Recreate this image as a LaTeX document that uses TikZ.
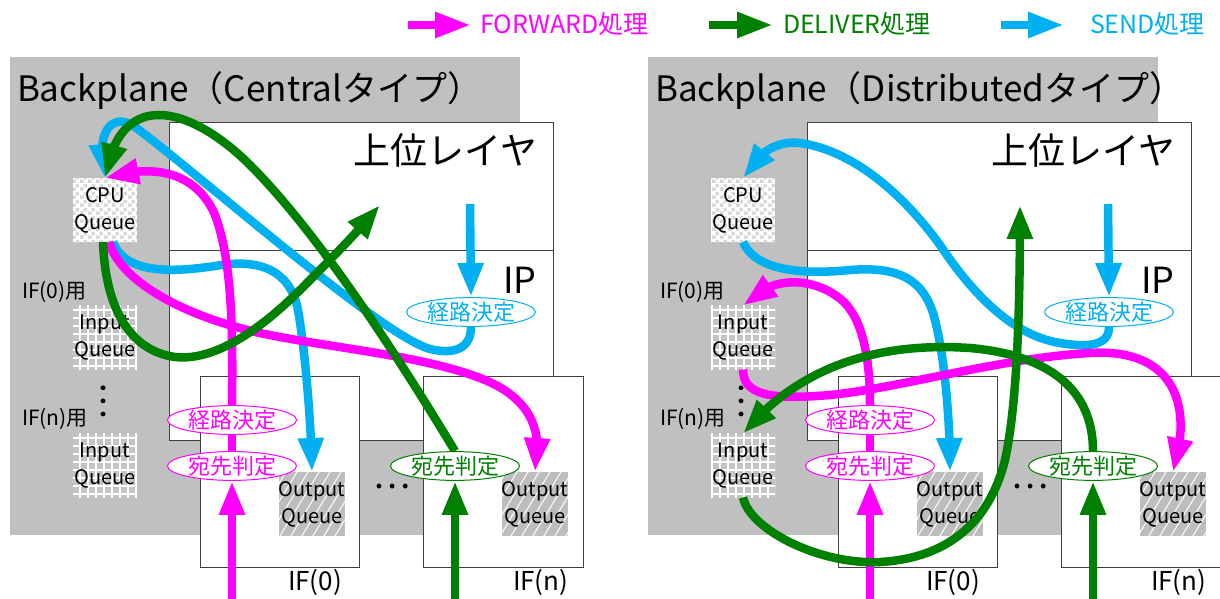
\documentclass[tikz,border=0pt]{standalone}
\usepackage{fontspec}
\setmainfont{Noto Sans CJK JP}
\usetikzlibrary{arrows.meta,bending,shapes.geometric,patterns}
\pgfdeclarelayer{boxes}
\pgfdeclarelayer{curves}
\pgfsetlayers{boxes,curves,main}
\newcommand{\myfs}[1]{\fontsize{#1}{#1}\selectfont}
\definecolor{fwd}{HTML}{FF00FF}
\definecolor{dlv}{HTML}{008000}
\definecolor{snd}{HTML}{00B0F0}
\definecolor{bp}{HTML}{C0C0C0}
\definecolor{frame}{HTML}{404040}
\definecolor{chk}{HTML}{D8D8D8}
\definecolor{inqc}{HTML}{C4C4C4}
\definecolor{outqc}{HTML}{BDBDBD}
\definecolor{qedge}{HTML}{505050}
\pgfdeclarepatternformonly{qchecker}{\pgfpointorigin}{\pgfqpoint{8pt}{8pt}}{\pgfqpoint{8pt}{8pt}}{%
  \pgfpathrectangle{\pgfpointorigin}{\pgfqpoint{4pt}{4pt}}%
  \pgfpathrectangle{\pgfqpoint{4pt}{4pt}}{\pgfqpoint{4pt}{4pt}}%
  \pgfusepath{fill}}
\pgfdeclarepatternformonly{qgrid}{\pgfqpoint{-1pt}{-1pt}}{\pgfqpoint{9pt}{9pt}}{\pgfqpoint{8pt}{8pt}}{%
  \pgfsetlinewidth{1.2pt}%
  \pgfpathmoveto{\pgfqpoint{0pt}{-1pt}}\pgfpathlineto{\pgfqpoint{0pt}{9pt}}%
  \pgfpathmoveto{\pgfqpoint{-1pt}{0pt}}\pgfpathlineto{\pgfqpoint{9pt}{0pt}}%
  \pgfusepath{stroke}}
\pgfdeclarepatternformonly{qdiag}{\pgfqpoint{-1pt}{-1pt}}{\pgfqpoint{12pt}{19pt}}{\pgfqpoint{11pt}{18pt}}{%
  \pgfsetlinewidth{1pt}%
  \pgfpathmoveto{\pgfqpoint{0pt}{0pt}}\pgfpathlineto{\pgfqpoint{11pt}{18pt}}%
  \pgfusepath{stroke}}
\tikzset{
  frm/.style={draw=frame, line width=1pt, fill=white, inner sep=0pt, outer sep=0pt, anchor=north west},
  qbase/.style={minimum width=64pt, minimum height=64pt, inner sep=0pt, outer sep=0pt, align=center,
    font=\fontsize{20pt}{27pt}\selectfont,
    append after command={[draw=qedge, line width=1.5pt] (\tikzlastnode.north west) -- (\tikzlastnode.south west)
      (\tikzlastnode.north east) -- (\tikzlastnode.south east)}},
  cpuq/.style={qbase, fill=white, postaction={pattern=qchecker, pattern color=chk}},
  inq/.style={qbase, fill=inqc, postaction={pattern=qgrid, pattern color=white}},
  outq/.style={qbase, fill=outqc, postaction={pattern=qdiag, pattern color=white}},
  lbl/.style={ellipse, draw=#1, text=#1, fill=white, line width=1pt, minimum width=129pt,
    minimum height=25pt, inner sep=0pt, font=\myfs{22pt}},
  flow/.style={line width=8.5pt, draw=#1},
  head/.style={-{Triangle[length=34pt,width=24pt]}},
  lghead/.style={-{Triangle[length=36pt,width=24pt]}},
  txt/.style={inner sep=0pt, outer sep=0pt},
}
\begin{document}
\begin{tikzpicture}[x=1pt,y=-1pt]
\useasboundingbox (0,0) rectangle (1220,598);
% legend
\coordinate (lgFa) at (408,25); \coordinate (lgFb) at (471,25);
\coordinate (lgDa) at (709,25); \coordinate (lgDb) at (773,25);
\coordinate (lgSa) at (1001,25); \coordinate (lgSb) at (1064,25);
\draw[flow=fwd, lghead] (lgFa) -- (lgFb);
\draw[flow=dlv, lghead] (lgDa) -- (lgDb);
\draw[flow=snd, lghead] (lgSa) -- (lgSb);
\node[txt, anchor=base west, text=fwd, font=\myfs{25pt}] (lgFt) at (480,33) {FORWARD処理};
\node[txt, anchor=base west, text=dlv, font=\myfs{25pt}] (lgDt) at (783,33) {DELIVER処理};
\node[txt, anchor=base west, text=snd, font=\myfs{25pt}] (lgSt) at (1090,33) {SEND処理};

\foreach \dx/\p/\ttl in {0/L/Central, 638/R/Distributed}{
\begin{scope}[xshift=\dx pt]
 \begin{pgfonlayer}{boxes}
  \node[fill=bp, inner sep=0pt, outer sep=0pt, minimum width=510pt, minimum height=478pt, anchor=north west] (\p-bp) at (10,57) {};
  \node[txt, anchor=base west, font=\myfs{35pt}] (\p-title) at (17,101) {Backplane（\ttl タイプ）};
  \node[frm, minimum width=384pt, minimum height=128pt] (\p-upper) at (169,122) {};
  \node[frm, minimum width=384pt, minimum height=190pt] (\p-ip) at (169,250) {};
  \node[frm, minimum width=159pt, minimum height=191pt] (\p-if0) at (200,376) {};
  \node[frm, minimum width=160pt, minimum height=191pt] (\p-ifn) at (423,376) {};
  \node[txt, anchor=base east, font=\myfs{37pt}] (\p-uptxt) at (537,164) {上位レイヤ};
  \node[txt, anchor=base west, font=\myfs{36pt}] (\p-iptxt) at (503,293) {IP};
  \node[txt, anchor=base west, font=\myfs{21pt}] (\p-if0y) at (22,298) {IF(0)用};
  \node[txt, anchor=base west, font=\myfs{21pt}] (\p-ifny) at (22,425) {IF(n)用};
  \node[txt, rotate=90, font=\myfs{35pt}] (\p-vdots) at (104,402) {…};
  \node[txt, font=\myfs{35pt}] (\p-hdots) at (392,487) {…};
  \node[txt, anchor=base west, font=\myfs{26pt}] (\p-if0t) at (288,590) {IF(0)};
  \node[txt, anchor=base west, font=\myfs{26pt}] (\p-ifnt) at (513,590) {IF(n)};
  \node[cpuq] (\p-cpu) at (105,210) {CPU\\Queue};
  \node[inq] (\p-in0) at (105,337.5) {Input\\Queue};
  \node[inq] (\p-inn) at (105,465.5) {Input\\Queue};
  \node[outq] (\p-out0) at (312,504) {Output\\Queue};
  \node[outq] (\p-outn) at (535,504) {Output\\Queue};
 \end{pgfonlayer}
  \node[lbl=snd] (\p-route) at (471,312) {経路決定};
  \node[lbl=fwd] (\p-routem) at (232,420) {経路決定};
  \node[lbl=fwd] (\p-destm) at (232,466) {宛先判定};
  \node[lbl=dlv] (\p-destg) at (455,466) {宛先判定};
  \coordinate (\p-fin) at (232,600);
  \coordinate (\p-din) at (455,600);
  \coordinate (\p-sin) at (470,204);
 \begin{pgfonlayer}{curves}
  \draw[flow=fwd, head] (\p-fin) -- (\p-destm.south);
  \draw[flow=fwd] (\p-destm.north) -- (\p-routem.south);
  \draw[flow=dlv, head] (\p-din) -- (\p-destg.south);
  \draw[flow=snd, head] (\p-sin) -- (\p-route.north);
 \end{pgfonlayer}
\end{scope}
}
\coordinate (L-dtip) at (380,205);
\coordinate (R-dtip) at (1020,205);
\begin{pgfonlayer}{curves}
% left panel
\draw[flow=snd, head] (L-route.south) .. controls (471,348) and (455,355) .. (430,349)
  .. controls (380,335) and (200,175) .. (135,127) .. controls (110,110) and (95,135) .. (L-cpu.north);
\draw[flow=snd, head] ([xshift=8pt]L-cpu.south) .. controls (125,275) and (175,272) .. (215,266)
  .. controls (260,258) and (290,270) .. (298,310) .. controls (305,350) and (311,420) .. (L-out0.north);
\draw[flow=fwd, head] (L-routem.north) .. controls (233,330) and (232,260) .. (215,215)
  .. controls (200,180) and (165,160) .. (L-cpu.north);
\draw[flow=fwd, head] ([xshift=4pt]L-cpu.south) .. controls (120,280) and (180,315) .. (260,333)
  .. controls (330,348) and (420,355) .. (480,378) .. controls (525,395) and (545,425) .. (L-outn.north);
\draw[flow=dlv, head] (L-destg.north) .. controls (400,360) and (320,235) .. (250,165)
  .. controls (210,125) and (160,100) .. (130,125) .. controls (115,137) and (110,155) .. (L-cpu.north);
\draw[flow=dlv, head] ([xshift=-2pt]L-cpu.south) .. controls (105,300) and (125,350) .. (175,357)
  .. controls (220,362) and (270,320) .. (300,290) .. controls (330,260) and (355,235) .. (L-dtip);
% right panel
\draw[flow=snd, head] (R-route.south) .. controls (1109,345) and (1090,348) .. (1060,343)
  .. controls (1010,335) and (970,290) .. (940,245) .. controls (900,190) and (850,150) .. (800,143)
  .. controls (775,140) and (755,155) .. (R-cpu.north);
\draw[flow=snd, head] (R-cpu.south) .. controls (755,270) and (800,275) .. (850,270)
  .. controls (900,266) and (925,280) .. (935,320) .. controls (945,360) and (950,420) .. (R-out0.north);
\draw[flow=fwd, head] (R-routem.north) .. controls (870,350) and (860,310) .. (835,295)
  .. controls (810,278) and (770,275) .. (R-in0.north);
\draw[flow=fwd, head] (R-in0.south) .. controls (743,395) and (770,400) .. (830,395)
  .. controls (900,388) and (1000,358) .. (1090,353) .. controls (1170,348) and (1195,400) .. (R-outn.north);
\draw[flow=dlv, head] (R-destg.north) .. controls (1093,390) and (1050,355) .. (970,348)
  .. controls (880,342) and (800,365) .. (R-inn.north);
\draw[flow=dlv, head] (R-inn.south) .. controls (750,530) and (820,565) .. (880,562)
  .. controls (950,558) and (990,520) .. (1005,460) .. controls (1018,400) and (1020,300) .. (R-dtip);
\end{pgfonlayer}
\end{tikzpicture}
\end{document}
